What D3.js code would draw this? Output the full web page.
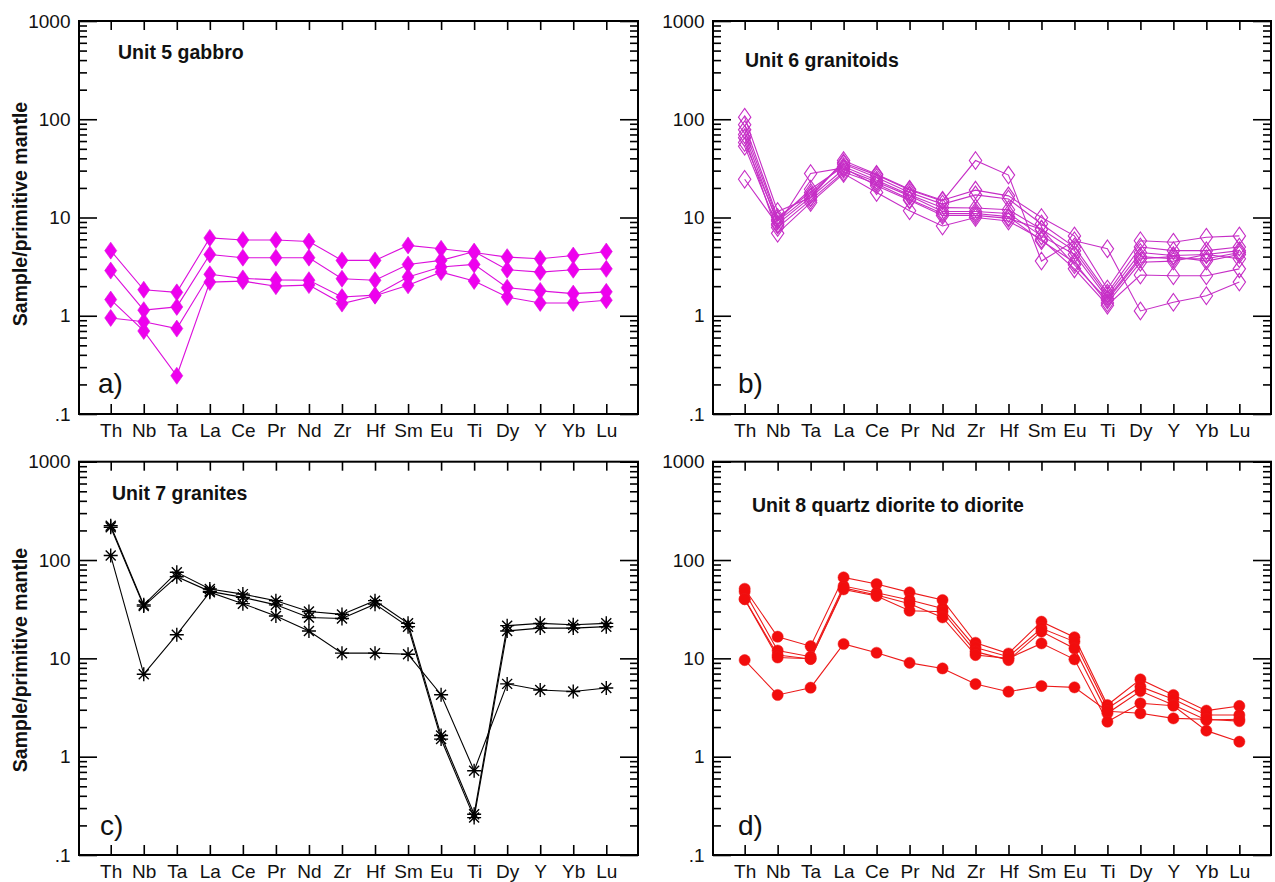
<!DOCTYPE html>
<html><head><meta charset="utf-8">
<script src="https://cdn.jsdelivr.net/npm/d3@7"></script>
<style>
body{margin:0;background:#fff}
text{font-family:"Liberation Sans",Arial,Helvetica,sans-serif;fill:#111}
</style>
</head><body><svg id="chart" width="1275" height="882"></svg>
<script>
// Primitive-mantle normalised multi-element patterns, four intrusive units
const elements = ["Th","Nb","Ta","La","Ce","Pr","Nd","Zr","Hf","Sm","Eu","Ti","Dy","Y","Yb","Lu"];
const yTickValues = [0.1, 1, 10, 100, 1000];
const yTickLabels = [".1", "1", "10", "100", "1000"];

const unit5Gabbro = [
  [4.6, 1.84, 1.73, 6.2, 5.9, 5.9, 5.7, 3.66, 3.66, 5.2, 4.8, 4.4, 3.95, 3.8, 4.1, 4.5],
  [2.88, 1.14, 1.23, 4.2, 3.9, 3.9, 3.9, 2.38, 2.3, 3.33, 3.66, 4.5, 2.94, 2.78, 2.94, 3.0],
  [1.46, 0.70, 0.245, 2.2, 2.25, 2.0, 2.05, 1.33, 1.6, 2.04, 2.78, 2.26, 1.55, 1.35, 1.35, 1.44],
  [0.95, 0.87, 0.74, 2.64, 2.4, 2.32, 2.3, 1.55, 1.62, 2.48, 3.13, 3.33, 1.93, 1.79, 1.68, 1.75]
];

const unit6Granitoids = [
  [58, 9.2, 17, 36, 27, 19, 14.7, 38, 27, 3.6, 5.8, 4.8, 1.12, 1.37, 1.6, 2.2],
  [105, 11.5, 16, 38, 27.5, 19.4, 15, 19, 16.6, 10, 6.5, 1.87, 5.8, 5.6, 6.3, 6.5],
  [88, 10, 18, 35, 25.5, 18, 13.7, 17, 15.4, 8.6, 5.0, 1.7, 5.0, 4.6, 4.6, 5.0],
  [78, 9.5, 19.4, 33, 24, 17, 12.6, 12.5, 12, 7.6, 4.6, 1.6, 4.4, 4.1, 4.2, 4.6],
  [70, 8.6, 16, 31, 23, 16.6, 11.5, 11.5, 11, 6.5, 4.2, 1.5, 4.0, 3.8, 3.8, 4.4],
  [53, 7.9, 15, 29, 22, 15.3, 11, 11, 10.2, 5.8, 3.5, 1.35, 3.5, 3.6, 4.2, 3.8],
  [65, 6.9, 14.2, 28, 18, 11.7, 8.2, 10, 9.2, 6.0, 3.0, 1.28, 2.6, 2.55, 2.55, 3.0],
  [24.5, 8.4, 28, 32, 21, 15, 10.5, 10.5, 9.8, 7.6, 3.3, 1.45, 3.8, 4.0, 3.6, 4.2]
];

const unit7Granites = [
  [223, 35, 75, 50.7, 45, 38.6, 30, 28, 38.6, 22.7, 1.64, 0.26, 21.5, 22.7, 22, 22.7],
  [215, 34, 67.7, 48, 41.7, 35, 26, 25.4, 35.6, 21, 1.51, 0.24, 19, 20.3, 20.3, 21],
  [111, 6.9, 17.4, 47, 36, 27, 19, 11.3, 11.3, 11, 4.27, 0.72, 5.5, 4.77, 4.6, 5.0]
];

const unit8Diorite = [
  [51, 16.6, 13.3, 66.6, 57, 46.9, 39.2, 14.4, 11.2, 23.6, 16.4, 3.35, 6.11, 4.24, 2.94, 3.28],
  [47.6, 12, 10.4, 54.4, 46.5, 39.2, 32.2, 12.9, 10.4, 20.2, 14.8, 3.1, 5.15, 3.83, 2.65, 2.65],
  [40, 10.8, 9.85, 50.3, 43, 30.5, 29.8, 11.7, 9.6, 18.7, 12.6, 2.76, 4.65, 3.35, 2.36, 2.4],
  [40, 10.2, 9.9, 52, 44, 36, 26.1, 10.8, 10, 14.2, 9.77, 2.27, 3.49, 3.3, 1.84, 1.42],
  [9.6, 4.24, 5.03, 14, 11.4, 9.0, 7.9, 5.48, 4.58, 5.23, 5.07, 2.9, 2.76, 2.45, 2.4, 2.3]
];

const titles = ["Unit 5 gabbro", "Unit 6 granitoids", "Unit 7 granites", "Unit 8 quartz diorite to diorite"];
const panelLetters = ["a)", "b)", "c)", "d)"];
const yTitle = "Sample/primitive mantle";

const svg = d3.select("#chart");
svg.append("rect").attr("width", 1275).attr("height", 882).attr("fill", "#fff");

const panels = [
  {data: unit5Gabbro, x0: 79, x1: 638, y0: 21, y1: 414, title: [118, 59], letter: [98, 393], yTitle: 214,
   marker: "diamondFilled", line: "#dc10dc", fill: "#ee00ee"},
  {data: unit6Granitoids, x0: 713, x1: 1271, y0: 21, y1: 414, title: [745, 67], letter: [738, 393], yTitle: null,
   marker: "diamondOpen", line: "#c62ec6", fill: "none"},
  {data: unit7Granites, x0: 79, x1: 638, y0: 461.7, y1: 855, title: [112, 500], letter: [100, 835], yTitle: 660,
   marker: "asterisk", line: "#000", fill: "none"},
  {data: unit8Diorite, x0: 713, x1: 1271, y0: 461.7, y1: 855, title: [752, 512], letter: [738, 835], yTitle: null,
   marker: "circle", line: "#ec1a1a", fill: "#f20d0d"}
];

const minorTicks = [];
[0.1, 1, 10, 100].forEach(d => { for (let k = 2; k <= 9; k++) minorTicks.push(d * k); });

panels.forEach((p, i) => {
  const x = d3.scalePoint().domain(elements).range([p.x0, p.x1]).padding(0.96);
  const y = d3.scaleLog().domain([0.1, 1000]).range([p.y1, p.y0]);
  const g = svg.append("g");

  // left axis: minor + major ticks pointing inward, decade labels
  g.append("g").attr("transform", `translate(${p.x0},0)`)
    .call(d3.axisLeft(y).tickValues(minorTicks).tickSizeInner(-8).tickSizeOuter(0).tickFormat(""))
    .call(a => a.select(".domain").remove());
  g.append("g").attr("transform", `translate(${p.x0},0)`)
    .call(d3.axisLeft(y).tickValues(yTickValues).tickSizeInner(-18).tickSizeOuter(0).tickPadding(8.5)
      .tickFormat((d, j) => yTickLabels[j]))
    .call(a => a.select(".domain").remove());
  // right axis
  g.append("g").attr("transform", `translate(${p.x1},0)`)
    .call(d3.axisRight(y).tickValues(minorTicks).tickSizeInner(-8).tickSizeOuter(0).tickFormat(""))
    .call(a => a.select(".domain").remove());
  g.append("g").attr("transform", `translate(${p.x1},0)`)
    .call(d3.axisRight(y).tickValues(yTickValues).tickSizeInner(-18).tickSizeOuter(0).tickFormat(""))
    .call(a => a.select(".domain").remove());
  // top and bottom category axes
  g.append("g").attr("transform", `translate(0,${p.y0})`)
    .call(d3.axisTop(x).tickSizeInner(-9).tickSizeOuter(0).tickFormat(""))
    .call(a => a.select(".domain").remove());
  g.append("g").attr("transform", `translate(0,${p.y1})`)
    .call(d3.axisBottom(x).tickSizeInner(-10).tickSizeOuter(0).tickPadding(10))
    .call(a => a.select(".domain").remove());

  g.selectAll(".tick line").attr("stroke", "#000").attr("stroke-width", 1.6);
  g.selectAll(".tick text").style("font-family", '"Liberation Sans",Arial,sans-serif')
    .style("font-size", "19px").attr("fill", "#111");

  g.append("rect").attr("x", p.x0).attr("y", p.y0)
    .attr("width", p.x1 - p.x0).attr("height", p.y1 - p.y0)
    .attr("fill", "none").attr("stroke", "#000").attr("stroke-width", 2);

  // sample patterns
  const line = d3.line().x((d, j) => x(elements[j])).y(d => y(d));
  const series = g.append("g");
  series.selectAll("path.pattern").data(p.data).join("path")
    .attr("class", "pattern").attr("d", line)
    .attr("fill", "none").attr("stroke", p.line).attr("stroke-width", 1.1);

  const pts = [];
  p.data.forEach(s => s.forEach((v, j) => pts.push({el: elements[j], v})));
  const mk = series.selectAll("g.pt").data(pts).join("g").attr("class", "pt")
    .attr("transform", d => `translate(${x(d.el)},${y(d.v)})`);

  if (p.marker === "diamondFilled") {
    mk.append("path").attr("d", "M0,-8.5L6,0L0,8.5L-6,0Z")
      .attr("fill", p.fill).attr("stroke", p.line).attr("stroke-width", 0.6);
  } else if (p.marker === "diamondOpen") {
    mk.append("path").attr("d", "M0,-8.8L6.2,0L0,8.8L-6.2,0Z")
      .attr("fill", "none").attr("stroke", p.line).attr("stroke-width", 1.1);
  } else if (p.marker === "asterisk") {
    const r = 7, q = 5;
    mk.append("path").attr("d", `M0,${-r}V${r}M${-r},0H${r}M${-q},${-q}L${q},${q}M${-q},${q}L${q},${-q}`)
      .attr("stroke", "#000").attr("stroke-width", 1.4).attr("fill", "none");
  } else {
    mk.append("circle").attr("r", 5.6).attr("fill", p.fill).attr("stroke", p.line).attr("stroke-width", 0.5);
  }

  svg.append("text").attr("x", p.title[0]).attr("y", p.title[1])
    .style("font-size", "19.5px").style("font-weight", "bold").text(titles[i]);
  svg.append("text").attr("x", p.letter[0]).attr("y", p.letter[1])
    .style("font-size", "28px").text(panelLetters[i]);
  if (p.yTitle !== null) {
    svg.append("text").attr("transform", `translate(27,${p.yTitle}) rotate(-90)`)
      .attr("text-anchor", "middle").style("font-size", "19.5px").style("font-weight", "bold").text(yTitle);
  }
});
</script>
</body></html>
